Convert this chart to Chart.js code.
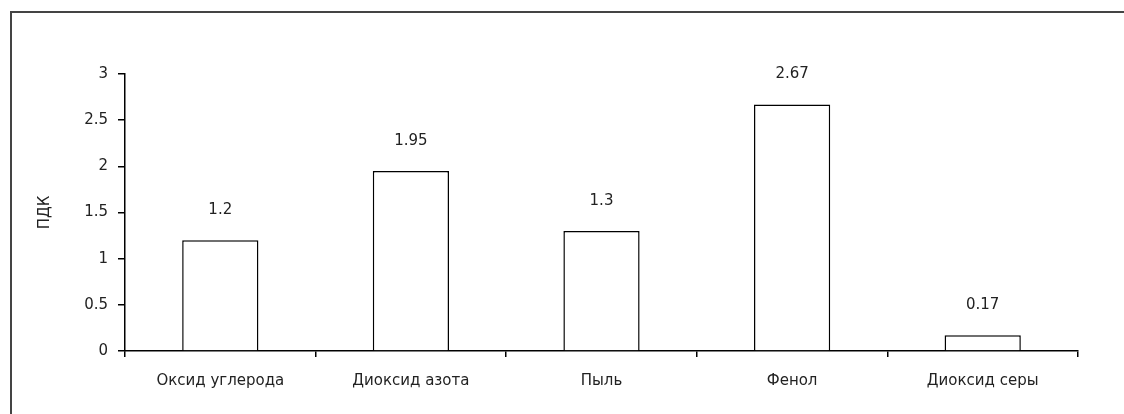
<!DOCTYPE html>
<html>
<head>
<meta charset="utf-8">
<script src="https://cdn.jsdelivr.net/npm/chart.js@4.4.0/dist/chart.umd.min.js"></script>
<style>
    html, body { margin: 0; padding: 0; background: #fff; }
    #wrap { position: relative; width: 1124px; height: 414px; overflow: hidden; }
    #frame { position: absolute; left: 10px; top: 11px; width: 1200px; height: 500px; border-left: 2px solid #444; border-top: 2px solid #444; }
    #the-graph { position: absolute; left: 0; top: 0; }
</style>
</head>
<body>
<div id="wrap">
    <div id="frame"></div>
    <canvas id="the-graph" width="1124" height="414"></canvas>
</div>
<script>
/*
 *  Chart data
 */

const categories = ['Оксид углерода', 'Диоксид азота', 'Пыль', 'Фенол', 'Диоксид серы'];
const values = [1.2, 1.95, 1.3, 2.67, 0.17];
const valueLabels = ['1.2', '1.95', '1.3', '2.67', '0.17'];
const yTitle = 'ПДК';

const font = "'DejaVu Sans', Verdana, sans-serif";
const fontSize = 15;

/*
 *  Value labels above bars
 */

const barLabels = {
    id: 'barLabels',
    afterDatasetsDraw(chart) {
        const ctx = chart.ctx;
        const meta = chart.getDatasetMeta(0);
        ctx.save();
        ctx.font = fontSize + 'px ' + font;
        ctx.fillStyle = '#222';
        ctx.textAlign = 'center';
        ctx.textBaseline = 'middle';
        meta.data.forEach((bar, i) => {
            ctx.fillText(valueLabels[i], bar.x, bar.y - 30);
        });
        ctx.restore();
    }
};

document.addEventListener('DOMContentLoaded', () => {
    const content = document.getElementById('the-graph').getContext('2d');
    // the source uses a wide, loosely spaced font
    content.letterSpacing = '1.5px';
    new Chart(content, {
        type: 'bar',
        data: {
            labels: categories,
            datasets: [{
                data: values,
                backgroundColor: '#fff',
                borderColor: '#000',
                borderWidth: 1.5,
                barPercentage: 0.4,
                categoryPercentage: 1
            }]
        },
        options: {
            responsive: false,
            animation: false,
            layout: { padding: { left: 0, top: 74, right: 46, bottom: 0 } },
            plugins: {
                legend: { display: false },
                tooltip: { enabled: false }
            },
            scales: {
                x: {
                    offset: true,
                    grid: { offset: true, drawOnChartArea: false, drawTicks: true, tickLength: 6, color: '#000', lineWidth: 1.5 },
                    border: { color: '#000', width: 1.5 },
                    ticks: { color: '#222', font: { family: font, size: fontSize }, padding: 15, maxRotation: 0 },
                    afterFit(scale) { scale.height = 63; }
                },
                y: {
                    min: 0,
                    max: 3,
                    ticks: {
                        stepSize: 0.5,
                        color: '#222',
                        font: { family: font, size: fontSize },
                        padding: 10,
                        callback: (val) => String(val)
                    },
                    grid: { drawOnChartArea: false, drawTicks: true, tickLength: 7, color: '#000', lineWidth: 1.5 },
                    border: { color: '#000', width: 1.5 },
                    title: { display: true, text: yTitle, color: '#222', font: { family: font, size: fontSize }, padding: { top: 36, bottom: 0 } },
                    afterFit(scale) { scale.width = 125; }
                }
            }
        },
        plugins: [barLabels]
    });
});
</script>
</body>
</html>
